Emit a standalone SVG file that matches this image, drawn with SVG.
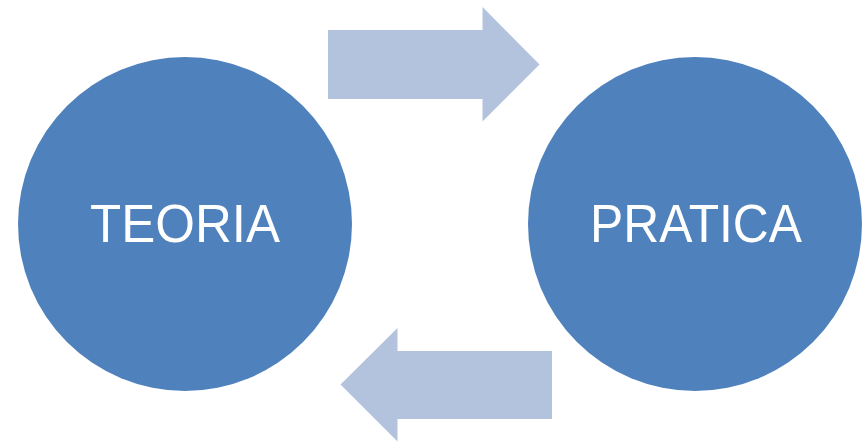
<svg xmlns="http://www.w3.org/2000/svg" width="868" height="442" viewBox="0 0 868 442">
<style>
.node{fill:#4F81BD}
.lbl{font-family:"Liberation Sans",Arial,sans-serif;font-size:54px;fill:#FFFFFF;text-anchor:middle}
.arr{fill:#B3C2DD}
</style>
<rect width="868" height="442" fill="#FFFFFF"/>
<g id="connectors">
<polygon class="arr" points="328,30 482.5,30 482.5,7 539.5,64.5 482.5,121.5 482.5,99 328,99"/>
<polygon class="arr" points="552,351 397.5,351 397.5,328 340.5,384.5 397.5,441.5 397.5,419 552,419"/>
</g>
<g id="teoria">
<circle class="node" cx="185" cy="224" r="167"/>
<text class="lbl" x="185" y="242" textLength="190" lengthAdjust="spacingAndGlyphs">TEORIA</text>
</g>
<g id="pratica">
<circle class="node" cx="695" cy="224" r="167"/>
<text class="lbl" x="696" y="242" textLength="212" lengthAdjust="spacingAndGlyphs">PRATICA</text>
</g>
</svg>
